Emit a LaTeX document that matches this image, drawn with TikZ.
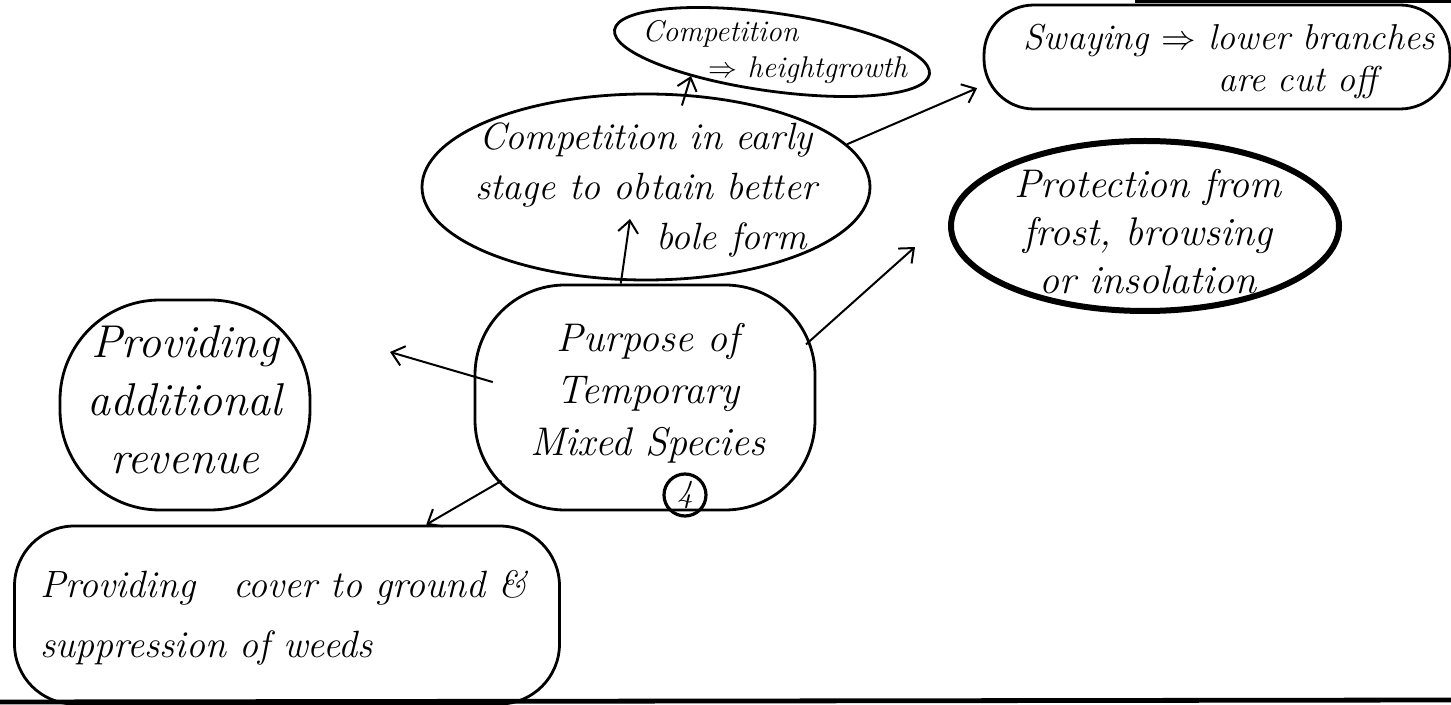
\documentclass[tikz,border=0pt]{standalone}
\usetikzlibrary{shapes.geometric,arrows.meta}
\begin{document}
\begin{tikzpicture}[x=0.5pt,y=-0.5pt,
  ink/.style={line width=1.4pt, draw=black},
  oval/.style={ink, ellipse, inner sep=0pt},
  blob/.style={ink, rectangle, inner sep=0pt},
  note/.style={align=center, inner sep=0pt},
  arr/.style={line width=1pt, -{Straight Barb[length=6pt,width=10pt]}}]
\useasboundingbox (0,0) rectangle (1451,705);

% page edges
\draw[line width=2.4pt] (0,702) -- (1451,700);
\draw[line width=1.6pt] (1135,1) -- (1451,1);

% bubbles
\node[oval, minimum width=159pt, minimum height=39pt, rotate=-8] (htgrowth) at (772,52) {};
\node[blob, rounded corners=25pt, minimum width=233pt, minimum height=52pt] (sway) at (1217,57) {};
\node[oval, minimum width=224pt, minimum height=93pt] (early) at (646,187) {};
\node[oval, line width=3pt, minimum width=194pt, minimum height=85pt] (protect) at (1145,226) {};
\node[blob, rounded corners=45pt, minimum width=170pt, minimum height=112.5pt] (hub) at (645,397.5) {};
\node[blob, rounded corners=50pt, minimum width=125pt, minimum height=105pt] (revenue) at (185,405) {};
\node[blob, rounded corners=30pt, minimum width=272.5pt, minimum height=89pt] (cover) at (287,615) {};
\node[circle, ink, line width=1.6pt, minimum size=21pt, inner sep=0pt,
      font=\itshape\fontsize{16}{16}\selectfont] (num) at (685,495) {4};

% texts
\node[note, align=left, anchor=west, font=\itshape\fontsize{15}{18}\selectfont] (htgrowthTxt) at (642,52)
  {Competition\\\hspace*{2.2em}$\Rightarrow$ heightgrowth};
\node[note, align=right, anchor=east, font=\itshape\fontsize{18}{21}\selectfont] (swayTxt) at (1435,62)
  {Swaying $\Rightarrow$ lower branches\\are cut off\hspace*{1.6em}};
\node[note, font=\itshape\fontsize{19}{25}\selectfont] (earlyTxt) at (646,190)
  {Competition in early\\stage to obtain better\\\hspace*{4.5em}bole form};
\node[note, font=\itshape\fontsize{20}{24}\selectfont] (protectTxt) at (1148,232)
  {Protection from\\frost, browsing\\or insolation};
\node[note, font=\itshape\fontsize{20}{26}\selectfont] (hubTxt) at (648,393)
  {Purpose of\\Temporary\\Mixed Species};
\node[note, font=\itshape\fontsize{23}{29}\selectfont] (revenueTxt) at (185,400)
  {Providing\\additional\\revenue};
\node[note, align=left, anchor=west, font=\itshape\fontsize{19}{30}\selectfont] (coverTxt) at (40,618)
  {Providing\quad cover to ground \&\\suppression of weeds};

% arrow tips that stop short of their targets
\coordinate (hgTip) at (691,76);
\coordinate (boleTip) at (630,219);
\coordinate (revTip) at (390,352);
\coordinate (protTip) at (915,247);

% connectors
\draw[arr, shorten <=-6pt] (early.67) -- (hgTip);
\draw[arr] (hub.102.5) -- (boleTip);
\draw[arr, shorten <=-10pt] (hub.173.5) -- (revTip);
\draw[arr, shorten <=83pt] (hub.center) -- (cover.33.2);
\draw[arr, shorten <=-7pt] (hub.20) -- (protTip);
\draw[arr, shorten >=3pt] (early.12) -- (sway.187.5);
\end{tikzpicture}
\end{document}
